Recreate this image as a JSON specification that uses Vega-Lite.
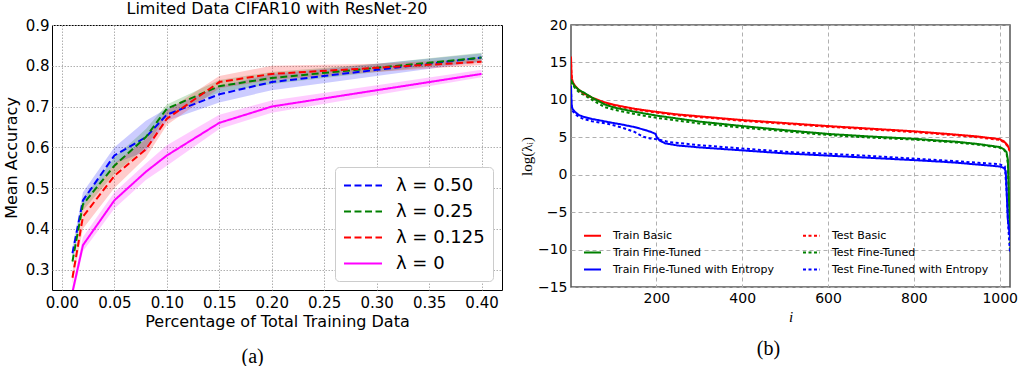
{
 "$schema": "https://vega.github.io/schema/vega-lite/v6.json",
 "padding": {"left": 2, "top": 0, "right": 2, "bottom": 0},
 "background": "white",
 "config": {"font": "DejaVu Sans", "view": {"stroke": null}},
 "spacing": 15,
 "resolve": {"scale": {"color": "independent", "strokeDash": "independent"}, "legend": {"color": "independent", "strokeDash": "independent"}},
 "hconcat": [
  {
   "title": {"text": "(a)", "orient": "bottom", "font": "Liberation Serif", "fontSize": 20, "fontWeight": "normal", "offset": 17, "anchor": "middle", "frame": "bounds", "color": "black"},
   "resolve": {"scale": {"color": "independent", "strokeDash": "independent"}, "legend": {"color": "independent", "strokeDash": "independent"}},
   "vconcat": [
    {
     "title": {"text": "Limited Data CIFAR10 with ResNet-20", "fontSize": 16, "fontWeight": "normal", "offset": 1, "color": "black"},
     "width": 450,
     "height": 265,
     "view": {"stroke": "black", "strokeWidth": 1},
     "data": {"values": [
      {"lam": "λ = 0.50", "x": 0.01, "m": 0.34, "lo": 0.33, "hi": 0.355},
      {"lam": "λ = 0.50", "x": 0.02, "m": 0.47, "lo": 0.455, "hi": 0.49},
      {"lam": "λ = 0.50", "x": 0.05, "m": 0.58, "lo": 0.56, "hi": 0.6},
      {"lam": "λ = 0.50", "x": 0.08, "m": 0.625, "lo": 0.59, "hi": 0.665},
      {"lam": "λ = 0.50", "x": 0.10, "m": 0.68, "lo": 0.665, "hi": 0.695},
      {"lam": "λ = 0.50", "x": 0.15, "m": 0.73, "lo": 0.71, "hi": 0.75},
      {"lam": "λ = 0.50", "x": 0.20, "m": 0.76, "lo": 0.74, "hi": 0.78},
      {"lam": "λ = 0.50", "x": 0.30, "m": 0.79, "lo": 0.775, "hi": 0.805},
      {"lam": "λ = 0.50", "x": 0.40, "m": 0.82, "lo": 0.81, "hi": 0.83},
      {"lam": "λ = 0.25", "x": 0.01, "m": 0.32, "lo": 0.31, "hi": 0.33},
      {"lam": "λ = 0.25", "x": 0.02, "m": 0.46, "lo": 0.445, "hi": 0.475},
      {"lam": "λ = 0.25", "x": 0.05, "m": 0.555, "lo": 0.535, "hi": 0.575},
      {"lam": "λ = 0.25", "x": 0.08, "m": 0.625, "lo": 0.6, "hi": 0.645},
      {"lam": "λ = 0.25", "x": 0.10, "m": 0.695, "lo": 0.68, "hi": 0.705},
      {"lam": "λ = 0.25", "x": 0.15, "m": 0.75, "lo": 0.735, "hi": 0.765},
      {"lam": "λ = 0.25", "x": 0.20, "m": 0.77, "lo": 0.755, "hi": 0.785},
      {"lam": "λ = 0.25", "x": 0.30, "m": 0.795, "lo": 0.785, "hi": 0.805},
      {"lam": "λ = 0.25", "x": 0.40, "m": 0.82, "lo": 0.81, "hi": 0.832},
      {"lam": "λ = 0.125", "x": 0.01, "m": 0.28, "lo": 0.265, "hi": 0.295},
      {"lam": "λ = 0.125", "x": 0.02, "m": 0.43, "lo": 0.4, "hi": 0.455},
      {"lam": "λ = 0.125", "x": 0.05, "m": 0.53, "lo": 0.5, "hi": 0.56},
      {"lam": "λ = 0.125", "x": 0.08, "m": 0.595, "lo": 0.575, "hi": 0.62},
      {"lam": "λ = 0.125", "x": 0.10, "m": 0.67, "lo": 0.655, "hi": 0.69},
      {"lam": "λ = 0.125", "x": 0.15, "m": 0.76, "lo": 0.745, "hi": 0.775},
      {"lam": "λ = 0.125", "x": 0.20, "m": 0.78, "lo": 0.765, "hi": 0.8},
      {"lam": "λ = 0.125", "x": 0.30, "m": 0.795, "lo": 0.785, "hi": 0.805},
      {"lam": "λ = 0.125", "x": 0.40, "m": 0.81, "lo": 0.802, "hi": 0.818},
      {"lam": "λ = 0", "x": 0.01, "m": 0.245, "lo": 0.23, "hi": 0.26},
      {"lam": "λ = 0", "x": 0.02, "m": 0.36, "lo": 0.345, "hi": 0.38},
      {"lam": "λ = 0", "x": 0.05, "m": 0.47, "lo": 0.45, "hi": 0.49},
      {"lam": "λ = 0", "x": 0.08, "m": 0.54, "lo": 0.52, "hi": 0.56},
      {"lam": "λ = 0", "x": 0.10, "m": 0.58, "lo": 0.555, "hi": 0.605},
      {"lam": "λ = 0", "x": 0.15, "m": 0.66, "lo": 0.645, "hi": 0.68},
      {"lam": "λ = 0", "x": 0.20, "m": 0.70, "lo": 0.685, "hi": 0.715},
      {"lam": "λ = 0", "x": 0.30, "m": 0.74, "lo": 0.728, "hi": 0.752},
      {"lam": "λ = 0", "x": 0.40, "m": 0.78, "lo": 0.772, "hi": 0.79}
     ]},
     "encoding": {
      "x": {"field": "x", "type": "quantitative", "scale": {"domain": [-0.0095, 0.4195], "nice": false, "zero": false},
            "axis": {"title": "Percentage of Total Training Data", "values": [0, 0.05, 0.1, 0.15, 0.2, 0.25, 0.3, 0.35, 0.4], "format": ".2f", "labelFontSize": 15, "titleFontSize": 16, "titleFontWeight": "normal", "labelColor": "black", "titleColor": "black", "ticks": false, "domain": false, "labelPadding": 5, "titlePadding": 3, "grid": true, "gridColor": "#b0b0b0", "gridDash": [1.5, 1.5], "gridWidth": 1}}
     },
     "layer": [
      {
       "transform": [{"filter": "datum.lam === 'λ = 0.50'"}],
       "mark": {"type": "area", "color": "#0000ff", "opacity": 0.2, "clip": true},
       "encoding": {
        "y": {"field": "lo", "type": "quantitative", "scale": {"domain": [0.25, 0.9], "nice": false, "zero": false},
              "axis": {"title": "Mean Accuracy", "values": [0.3, 0.4, 0.5, 0.6, 0.7, 0.8, 0.9], "format": ".1f", "labelFontSize": 15, "titleFontSize": 16, "titleFontWeight": "normal", "labelColor": "black", "titleColor": "black", "ticks": false, "domain": false, "labelPadding": 3, "titlePadding": 6, "grid": true, "gridColor": "#b0b0b0", "gridDash": [1.5, 1.5], "gridWidth": 1}},
        "y2": {"field": "hi"}
       }
      },
      {
       "transform": [{"filter": "datum.lam === 'λ = 0.25'"}],
       "mark": {"type": "area", "color": "#008000", "opacity": 0.2, "clip": true},
       "encoding": {"y": {"field": "lo", "type": "quantitative", "title": "Mean Accuracy"}, "y2": {"field": "hi"}}
      },
      {
       "transform": [{"filter": "datum.lam === 'λ = 0.125'"}],
       "mark": {"type": "area", "color": "#ff0000", "opacity": 0.2, "clip": true},
       "encoding": {"y": {"field": "lo", "type": "quantitative", "title": "Mean Accuracy"}, "y2": {"field": "hi"}}
      },
      {
       "transform": [{"filter": "datum.lam === 'λ = 0'"}],
       "mark": {"type": "area", "color": "#ff00ff", "opacity": 0.2, "clip": true},
       "encoding": {"y": {"field": "lo", "type": "quantitative", "title": "Mean Accuracy"}, "y2": {"field": "hi"}}
      },
      {
       "mark": {"type": "line", "strokeWidth": 2, "clip": true},
       "encoding": {
        "y": {"field": "m", "type": "quantitative", "title": "Mean Accuracy"},
        "color": {"field": "lam", "type": "nominal", "scale": {"domain": ["λ = 0.50", "λ = 0.25", "λ = 0.125", "λ = 0"], "range": ["#0000ff", "#008000", "#ff0000", "#ff00ff"]},
                  "legend": {"title": null, "orient": "bottom-right", "offset": 9, "fillColor": "white", "strokeColor": "#cccccc", "cornerRadius": 4, "padding": 8, "symbolType": "M-1,0H3", "symbolSize": 361, "symbolStrokeWidth": 2, "labelFontSize": 18, "labelColor": "black", "labelOffset": 32, "rowPadding": 6, "labelLimit": 0}},
        "strokeDash": {"field": "lam", "type": "nominal", "scale": {"domain": ["λ = 0.50", "λ = 0.25", "λ = 0.125", "λ = 0"], "range": [[7, 3.5], [7, 3.5], [7, 3.5], [1, 0]]},
                  "legend": {"title": null, "orient": "bottom-right", "offset": 9, "fillColor": "white", "strokeColor": "#cccccc", "cornerRadius": 4, "padding": 8, "symbolType": "M-1,0H3", "symbolSize": 361, "symbolStrokeWidth": 2, "labelFontSize": 18, "labelColor": "black", "labelOffset": 32, "rowPadding": 6, "labelLimit": 0}}
       }
      }
     ]
    }
   ]
  },
  {
   "title": {"text": "(b)", "orient": "bottom", "font": "Liberation Serif", "fontSize": 20, "fontWeight": "normal", "offset": 14, "anchor": "middle", "frame": "bounds", "color": "black"},
   "resolve": {"scale": {"color": "independent", "strokeDash": "independent"}, "legend": {"color": "independent", "strokeDash": "independent"}},
   "vconcat": [
    {
     "width": 439,
     "height": 262,
     "view": {"stroke": "#555555", "strokeWidth": 1.5},
     "data": {"values": [
      {"s": "Train Basic", "i": 1, "v": 15.8}, {"s": "Train Basic", "i": 2, "v": 13.6}, {"s": "Train Basic", "i": 3, "v": 12.9}, {"s": "Train Basic", "i": 5, "v": 12.4}, {"s": "Train Basic", "i": 10, "v": 11.9}, {"s": "Train Basic", "i": 20, "v": 11.3}, {"s": "Train Basic", "i": 30, "v": 10.9}, {"s": "Train Basic", "i": 50, "v": 10.3}, {"s": "Train Basic", "i": 75, "v": 9.75}, {"s": "Train Basic", "i": 100, "v": 9.35}, {"s": "Train Basic", "i": 150, "v": 8.8}, {"s": "Train Basic", "i": 200, "v": 8.4}, {"s": "Train Basic", "i": 250, "v": 8.05}, {"s": "Train Basic", "i": 300, "v": 7.8}, {"s": "Train Basic", "i": 400, "v": 7.3}, {"s": "Train Basic", "i": 500, "v": 6.9}, {"s": "Train Basic", "i": 600, "v": 6.5}, {"s": "Train Basic", "i": 700, "v": 6.15}, {"s": "Train Basic", "i": 800, "v": 5.8}, {"s": "Train Basic", "i": 900, "v": 5.35}, {"s": "Train Basic", "i": 950, "v": 5.1}, {"s": "Train Basic", "i": 1000, "v": 4.75}, {"s": "Train Basic", "i": 1010, "v": 4.45}, {"s": "Train Basic", "i": 1018, "v": 3.95}, {"s": "Train Basic", "i": 1024, "v": 3.2},
      {"s": "Test Basic", "i": 1, "v": 15.5}, {"s": "Test Basic", "i": 2, "v": 13.4}, {"s": "Test Basic", "i": 3, "v": 12.8}, {"s": "Test Basic", "i": 5, "v": 12.3}, {"s": "Test Basic", "i": 10, "v": 11.8}, {"s": "Test Basic", "i": 20, "v": 11.2}, {"s": "Test Basic", "i": 30, "v": 10.8}, {"s": "Test Basic", "i": 50, "v": 10.2}, {"s": "Test Basic", "i": 75, "v": 9.65}, {"s": "Test Basic", "i": 100, "v": 9.25}, {"s": "Test Basic", "i": 150, "v": 8.7}, {"s": "Test Basic", "i": 200, "v": 8.3}, {"s": "Test Basic", "i": 250, "v": 7.95}, {"s": "Test Basic", "i": 300, "v": 7.7}, {"s": "Test Basic", "i": 400, "v": 7.2}, {"s": "Test Basic", "i": 500, "v": 6.8}, {"s": "Test Basic", "i": 600, "v": 6.4}, {"s": "Test Basic", "i": 700, "v": 6.05}, {"s": "Test Basic", "i": 800, "v": 5.7}, {"s": "Test Basic", "i": 900, "v": 5.25}, {"s": "Test Basic", "i": 950, "v": 5.0}, {"s": "Test Basic", "i": 1000, "v": 4.65}, {"s": "Test Basic", "i": 1010, "v": 4.35}, {"s": "Test Basic", "i": 1018, "v": 3.85}, {"s": "Test Basic", "i": 1024, "v": 3.1},
      {"s": "Train Fine-Tuned", "i": 1, "v": 12.7}, {"s": "Train Fine-Tuned", "i": 3, "v": 12.4}, {"s": "Train Fine-Tuned", "i": 10, "v": 11.8}, {"s": "Train Fine-Tuned", "i": 20, "v": 11.3}, {"s": "Train Fine-Tuned", "i": 33, "v": 10.9}, {"s": "Train Fine-Tuned", "i": 50, "v": 10.3}, {"s": "Train Fine-Tuned", "i": 79, "v": 9.4}, {"s": "Train Fine-Tuned", "i": 100, "v": 9.0}, {"s": "Train Fine-Tuned", "i": 150, "v": 8.4}, {"s": "Train Fine-Tuned", "i": 200, "v": 7.9}, {"s": "Train Fine-Tuned", "i": 300, "v": 7.1}, {"s": "Train Fine-Tuned", "i": 400, "v": 6.5}, {"s": "Train Fine-Tuned", "i": 500, "v": 5.95}, {"s": "Train Fine-Tuned", "i": 600, "v": 5.45}, {"s": "Train Fine-Tuned", "i": 700, "v": 5.1}, {"s": "Train Fine-Tuned", "i": 800, "v": 4.8}, {"s": "Train Fine-Tuned", "i": 861, "v": 4.55}, {"s": "Train Fine-Tuned", "i": 900, "v": 4.4}, {"s": "Train Fine-Tuned", "i": 950, "v": 4.1}, {"s": "Train Fine-Tuned", "i": 1000, "v": 3.7}, {"s": "Train Fine-Tuned", "i": 1010, "v": 3.4}, {"s": "Train Fine-Tuned", "i": 1016, "v": 3.0}, {"s": "Train Fine-Tuned", "i": 1019, "v": 2.0}, {"s": "Train Fine-Tuned", "i": 1021, "v": -2.0}, {"s": "Train Fine-Tuned", "i": 1023, "v": -6.0}, {"s": "Train Fine-Tuned", "i": 1024, "v": -8.0},
      {"s": "Test Fine-Tuned", "i": 1, "v": 12.5}, {"s": "Test Fine-Tuned", "i": 3, "v": 12.2}, {"s": "Test Fine-Tuned", "i": 10, "v": 11.6}, {"s": "Test Fine-Tuned", "i": 20, "v": 11.0}, {"s": "Test Fine-Tuned", "i": 33, "v": 10.6}, {"s": "Test Fine-Tuned", "i": 50, "v": 10.0}, {"s": "Test Fine-Tuned", "i": 79, "v": 9.05}, {"s": "Test Fine-Tuned", "i": 100, "v": 8.7}, {"s": "Test Fine-Tuned", "i": 150, "v": 8.1}, {"s": "Test Fine-Tuned", "i": 200, "v": 7.6}, {"s": "Test Fine-Tuned", "i": 300, "v": 6.85}, {"s": "Test Fine-Tuned", "i": 400, "v": 6.3}, {"s": "Test Fine-Tuned", "i": 500, "v": 5.8}, {"s": "Test Fine-Tuned", "i": 600, "v": 5.3}, {"s": "Test Fine-Tuned", "i": 700, "v": 4.95}, {"s": "Test Fine-Tuned", "i": 800, "v": 4.7}, {"s": "Test Fine-Tuned", "i": 861, "v": 4.45}, {"s": "Test Fine-Tuned", "i": 900, "v": 4.3}, {"s": "Test Fine-Tuned", "i": 950, "v": 4.0}, {"s": "Test Fine-Tuned", "i": 1000, "v": 3.6}, {"s": "Test Fine-Tuned", "i": 1010, "v": 3.3}, {"s": "Test Fine-Tuned", "i": 1016, "v": 2.9}, {"s": "Test Fine-Tuned", "i": 1019, "v": 1.5}, {"s": "Test Fine-Tuned", "i": 1021, "v": -3.0}, {"s": "Test Fine-Tuned", "i": 1023, "v": -7.5}, {"s": "Test Fine-Tuned", "i": 1024, "v": -10.2},
      {"s": "Train Fine-Tuned with Entropy", "i": 1, "v": 11.9}, {"s": "Train Fine-Tuned with Entropy", "i": 2, "v": 9.8}, {"s": "Train Fine-Tuned with Entropy", "i": 3, "v": 9.1}, {"s": "Train Fine-Tuned with Entropy", "i": 5, "v": 8.75}, {"s": "Train Fine-Tuned with Entropy", "i": 10, "v": 8.4}, {"s": "Train Fine-Tuned with Entropy", "i": 20, "v": 7.95}, {"s": "Train Fine-Tuned with Entropy", "i": 30, "v": 7.75}, {"s": "Train Fine-Tuned with Entropy", "i": 50, "v": 7.45}, {"s": "Train Fine-Tuned with Entropy", "i": 91, "v": 7.0}, {"s": "Train Fine-Tuned with Entropy", "i": 120, "v": 6.7}, {"s": "Train Fine-Tuned with Entropy", "i": 150, "v": 6.35}, {"s": "Train Fine-Tuned with Entropy", "i": 175, "v": 5.95}, {"s": "Train Fine-Tuned with Entropy", "i": 188, "v": 5.7}, {"s": "Train Fine-Tuned with Entropy", "i": 198, "v": 5.45}, {"s": "Train Fine-Tuned with Entropy", "i": 201, "v": 5.0}, {"s": "Train Fine-Tuned with Entropy", "i": 208, "v": 4.55}, {"s": "Train Fine-Tuned with Entropy", "i": 220, "v": 4.2}, {"s": "Train Fine-Tuned with Entropy", "i": 250, "v": 3.9}, {"s": "Train Fine-Tuned with Entropy", "i": 300, "v": 3.65}, {"s": "Train Fine-Tuned with Entropy", "i": 400, "v": 3.25}, {"s": "Train Fine-Tuned with Entropy", "i": 500, "v": 2.85}, {"s": "Train Fine-Tuned with Entropy", "i": 600, "v": 2.55}, {"s": "Train Fine-Tuned with Entropy", "i": 700, "v": 2.25}, {"s": "Train Fine-Tuned with Entropy", "i": 800, "v": 1.95}, {"s": "Train Fine-Tuned with Entropy", "i": 861, "v": 1.75}, {"s": "Train Fine-Tuned with Entropy", "i": 900, "v": 1.6}, {"s": "Train Fine-Tuned with Entropy", "i": 950, "v": 1.35}, {"s": "Train Fine-Tuned with Entropy", "i": 1000, "v": 1.1}, {"s": "Train Fine-Tuned with Entropy", "i": 1010, "v": 0.9}, {"s": "Train Fine-Tuned with Entropy", "i": 1014, "v": 0.5}, {"s": "Train Fine-Tuned with Entropy", "i": 1016, "v": -2.0}, {"s": "Train Fine-Tuned with Entropy", "i": 1019, "v": -6.0}, {"s": "Train Fine-Tuned with Entropy", "i": 1024, "v": -8.3},
      {"s": "Test Fine-Tuned with Entropy", "i": 1, "v": 11.5}, {"s": "Test Fine-Tuned with Entropy", "i": 2, "v": 9.5}, {"s": "Test Fine-Tuned with Entropy", "i": 3, "v": 8.9}, {"s": "Test Fine-Tuned with Entropy", "i": 5, "v": 8.5}, {"s": "Test Fine-Tuned with Entropy", "i": 10, "v": 8.1}, {"s": "Test Fine-Tuned with Entropy", "i": 20, "v": 7.7}, {"s": "Test Fine-Tuned with Entropy", "i": 30, "v": 7.45}, {"s": "Test Fine-Tuned with Entropy", "i": 50, "v": 7.15}, {"s": "Test Fine-Tuned with Entropy", "i": 91, "v": 6.75}, {"s": "Test Fine-Tuned with Entropy", "i": 120, "v": 6.3}, {"s": "Test Fine-Tuned with Entropy", "i": 150, "v": 5.7}, {"s": "Test Fine-Tuned with Entropy", "i": 168, "v": 5.1}, {"s": "Test Fine-Tuned with Entropy", "i": 185, "v": 4.85}, {"s": "Test Fine-Tuned with Entropy", "i": 200, "v": 4.75}, {"s": "Test Fine-Tuned with Entropy", "i": 231, "v": 4.35}, {"s": "Test Fine-Tuned with Entropy", "i": 300, "v": 3.95}, {"s": "Test Fine-Tuned with Entropy", "i": 400, "v": 3.5}, {"s": "Test Fine-Tuned with Entropy", "i": 518, "v": 3.0}, {"s": "Test Fine-Tuned with Entropy", "i": 600, "v": 2.8}, {"s": "Test Fine-Tuned with Entropy", "i": 700, "v": 2.5}, {"s": "Test Fine-Tuned with Entropy", "i": 800, "v": 2.15}, {"s": "Test Fine-Tuned with Entropy", "i": 900, "v": 1.8}, {"s": "Test Fine-Tuned with Entropy", "i": 950, "v": 1.6}, {"s": "Test Fine-Tuned with Entropy", "i": 1000, "v": 1.4}, {"s": "Test Fine-Tuned with Entropy", "i": 1012, "v": 1.1}, {"s": "Test Fine-Tuned with Entropy", "i": 1016, "v": -2.0}, {"s": "Test Fine-Tuned with Entropy", "i": 1020, "v": -7.0}, {"s": "Test Fine-Tuned with Entropy", "i": 1024, "v": -10.3}
     ]},
     "encoding": {
      "x": {"field": "i", "type": "quantitative", "scale": {"domain": [1, 1024], "nice": false, "zero": false},
            "axis": {"title": "i", "titleFont": "Liberation Serif", "titleFontStyle": "italic", "titleFontSize": 15, "titleFontWeight": "normal", "values": [200, 400, 600, 800, 1000], "format": "d", "labelFontSize": 14, "labelColor": "black", "titleColor": "black", "ticks": false, "domain": false, "labelPadding": 4, "titlePadding": 4, "grid": true, "gridColor": "#b0b0b0", "gridDash": [4, 3], "gridWidth": 1}},
      "y": {"field": "v", "type": "quantitative", "scale": {"domain": [-15, 20], "nice": false, "zero": false},
            "axis": {"title": "log(λᵢ)", "titleFont": "Liberation Serif", "titleFontSize": 15, "titleFontWeight": "normal", "values": [-15, -10, -5, 0, 5, 10, 15, 20], "labelExpr": "replace(datum.label, '-', '−')", "labelFontSize": 14, "labelColor": "black", "titleColor": "black", "ticks": false, "domain": false, "labelPadding": 4, "titlePadding": 3, "grid": true, "gridColor": "#b0b0b0", "gridDash": [4, 3], "gridWidth": 1}},
      "color": {"field": "s", "type": "nominal",
                "scale": {"domain": ["Train Basic", "Train Fine-Tuned", "Train Fine-Tuned with Entropy", "Test Basic", "Test Fine-Tuned", "Test Fine-Tuned with Entropy"], "range": ["#ff0000", "#008000", "#0000ff", "#ff0000", "#008000", "#0000ff"]},
                "legend": {"title": null, "orient": "bottom-left", "columns": 2, "columnPadding": 25, "rowPadding": 2, "offset": 10, "padding": 2, "symbolType": "stroke", "symbolSize": 289, "symbolStrokeWidth": 2, "labelFontSize": 11, "labelColor": "black", "labelOffset": 11, "labelLimit": 0}},
      "strokeDash": {"field": "s", "type": "nominal",
                "scale": {"domain": ["Train Basic", "Train Fine-Tuned", "Train Fine-Tuned with Entropy", "Test Basic", "Test Fine-Tuned", "Test Fine-Tuned with Entropy"], "range": [[1, 0], [1, 0], [1, 0], [3, 2.5], [3, 2.5], [3, 2.5]]},
                "legend": {"title": null, "orient": "bottom-left", "columns": 2, "columnPadding": 25, "rowPadding": 2, "offset": 10, "padding": 2, "symbolType": "stroke", "symbolSize": 289, "symbolStrokeWidth": 2, "labelFontSize": 11, "labelColor": "black", "labelOffset": 11, "labelLimit": 0}}
     },
     "layer": [
      {"transform": [{"filter": "indexof(datum.s, 'Test') === 0"}], "mark": {"type": "line", "strokeWidth": 2, "clip": true}},
      {"transform": [{"filter": "indexof(datum.s, 'Train') === 0"}], "mark": {"type": "line", "strokeWidth": 2, "clip": true}}
     ]
    }
   ]
  }
 ]
}
